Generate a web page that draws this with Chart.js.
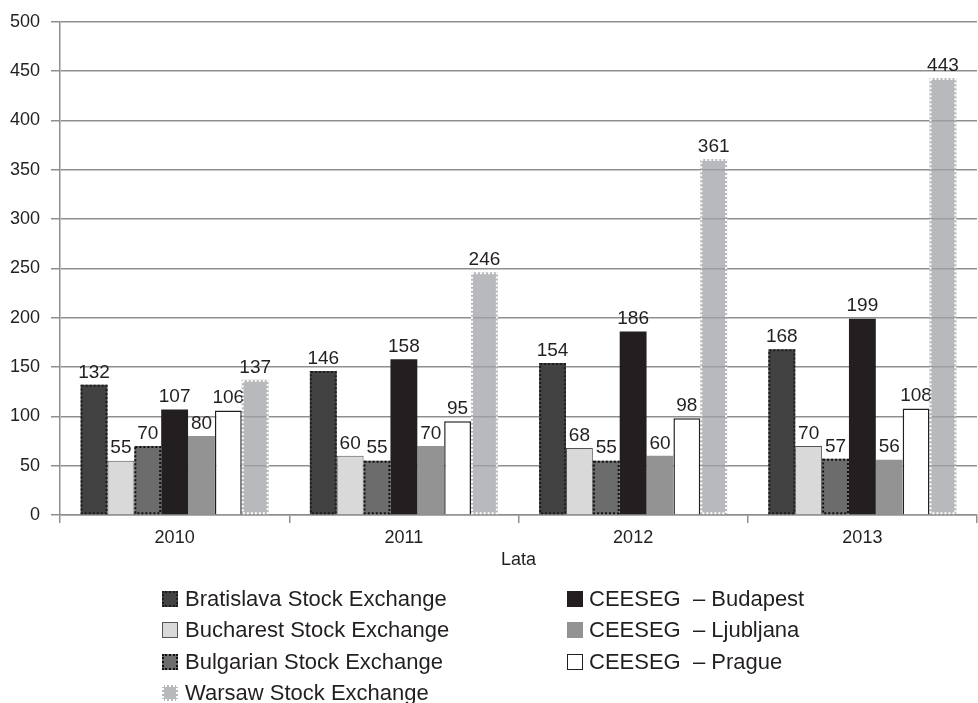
<!DOCTYPE html>
<html>
<head>
<meta charset="utf-8">
<script src="https://cdn.jsdelivr.net/npm/chart.js@4.4.1/dist/chart.umd.min.js"></script>
<style>
  body { margin: 0; background: #fff; }
  #wrap { position: relative; width: 978px; height: 703px; overflow: hidden; }
  .leg { position: absolute; font-family: "Liberation Sans", Arial, sans-serif; font-size: 22px; color: #231f20; white-space: pre; }
  .leg span.box { position: absolute; left: 0; top: 50%; width: 16px; height: 16px; margin-top: -8px; box-sizing: border-box; }
  .leg span.txt { position: absolute; top: 50%; transform: translateY(-50%); }
</style>
</head>
<body>
<div id="wrap">
  <canvas id="chart"></canvas>
</div>
<script>
// dane
const years = ['2010', '2011', '2012', '2013'];
const seriesNames = [
    'Bratislava Stock Exchange',
    'Bucharest Stock Exchange',
    'Bulgarian Stock Exchange',
    'CEESEG  – Budapest',
    'CEESEG  – Ljubljana',
    'CEESEG  – Prague',
    'Warsaw Stock Exchange'
];
const bratislava = [132, 146, 154, 168];
const bucharest = [55, 60, 68, 70];
const bulgarian = [70, 55, 55, 57];
const budapest = [107, 158, 186, 199];
const ljubljana = [80, 70, 60, 56];
const prague = [106, 95, 98, 108];
const warsaw = [137, 246, 361, 443];
const yTicks = [0, 50, 100, 150, 200, 250, 300, 350, 400, 450, 500];

const GRID = '#8f8f8f';
const FONT = '"Liberation Sans", Arial, sans-serif';

// kolumny z kropkowana ramka + etykiety wartosci
const barExtras = {
    id: 'barExtras',
    afterDatasetsDraw(chart) {
        const ctx = chart.ctx;
        chart.data.datasets.forEach((ds, i) => {
            const meta = chart.getDatasetMeta(i);
            meta.data.forEach((bar, j) => {
                const p = bar.getProps(['x', 'y', 'base', 'width'], true);
                const left = p.x - p.width / 2;
                if (ds.dotColor) {
                    ctx.save();
                    ctx.strokeStyle = ds.dotColor;
                    ctx.lineWidth = 2;
                    ctx.setLineDash([2, 2]);
                    ctx.strokeRect(left + 1, p.y + 1, p.width - 2, p.base - p.y - 2);
                    ctx.restore();
                }
                ctx.save();
                ctx.fillStyle = '#231f20';
                ctx.font = '19px ' + FONT;
                ctx.textAlign = 'center';
                ctx.textBaseline = 'bottom';
                ctx.fillText(ds.data[j], p.x, p.y - 3);
                ctx.restore();
            });
        });
    }
};

new Chart(document.getElementById('chart'), {
    type: 'bar',
    data: {
        labels: years,
        datasets: [
            { label: seriesNames[0], data: bratislava, backgroundColor: '#424242', borderWidth: 0, dotColor: '#1e1e1e' },
            { label: seriesNames[1], data: bucharest, backgroundColor: '#d9d9da', borderColor: '#555', borderWidth: 1 },
            { label: seriesNames[2], data: bulgarian, backgroundColor: '#6c6c6c', borderWidth: 0, dotColor: '#111' },
            { label: seriesNames[3], data: budapest, backgroundColor: '#231f20', borderWidth: 0 },
            { label: seriesNames[4], data: ljubljana, backgroundColor: '#939393', borderWidth: 0 },
            { label: seriesNames[5], data: prague, backgroundColor: '#ffffff', borderColor: '#231f20', borderWidth: 1.5 },
            { label: seriesNames[6], data: warsaw, backgroundColor: 'rgba(160,161,165,0.75)', borderWidth: 0, dotColor: '#ffffff' }
        ]
    },
    options: {
        responsive: true,
        maintainAspectRatio: false,
        animation: false,
        layout: { padding: { top: 19, right: 1, bottom: 128, left: 0 } },
        datasets: { bar: { categoryPercentage: 0.82, barPercentage: 1.0 } },
        scales: {
            x: {
                afterFit: s => { s.height = 60; },
                grid: { display: true, drawOnChartArea: false, drawTicks: true, tickLength: 8, color: GRID, lineWidth: 1.5, offset: true },
                border: { display: true, color: GRID, width: 1.5 },
                ticks: { color: '#231f20', font: { family: FONT, size: 18 }, padding: 4 },
                title: { display: true, text: 'Lata', color: '#231f20', font: { family: FONT, size: 18 }, padding: { top: 0, bottom: 4 } }
            },
            y: {
                min: 0,
                max: 500,
                afterFit: s => { s.width = 60; },
                afterBuildTicks: s => { s.ticks = yTicks.map(v => ({ value: v })); },
                grid: { color: GRID, lineWidth: 1.5, tickLength: 9 },
                border: { display: true, color: GRID, width: 1.5 },
                ticks: { color: '#231f20', font: { family: FONT, size: 18 }, padding: 11 }
            }
        },
        plugins: {
            legend: { display: false },
            tooltip: { enabled: false }
        }
    },
    plugins: [barExtras]
});

// legenda w dwoch kolumnach
const legendItems = [
    { i: 0, x: 162, y: 599, box: 'background:#424242;border:2px dotted #1e1e1e;' },
    { i: 1, x: 162, y: 630, box: 'background:#d9d9da;border:1px solid #555;' },
    { i: 2, x: 162, y: 662, box: 'background:#6c6c6c;border:2px dotted #111;' },
    { i: 6, x: 162, y: 693, box: 'background:#b8b9bb;border:2px dotted #fff;' },
    { i: 3, x: 567, y: 599, box: 'background:#231f20;' },
    { i: 4, x: 567, y: 630, box: 'background:#939393;' },
    { i: 5, x: 567, y: 662, box: 'background:#fff;border:1px solid #231f20;' }
];
const wrap = document.getElementById('wrap');
legendItems.forEach(it => {
    const d = document.createElement('div');
    d.className = 'leg';
    d.style.left = it.x + 'px';
    d.style.top = (it.y - 15) + 'px';
    d.style.height = '30px';
    d.style.width = '380px';
    d.innerHTML = '<span class="box" style="' + it.box + '"></span><span class="txt" style="left:' + (it.x === 162 ? 23 : 22) + 'px">' + seriesNames[it.i] + '</span>';
    wrap.appendChild(d);
});
</script>
</body>
</html>
